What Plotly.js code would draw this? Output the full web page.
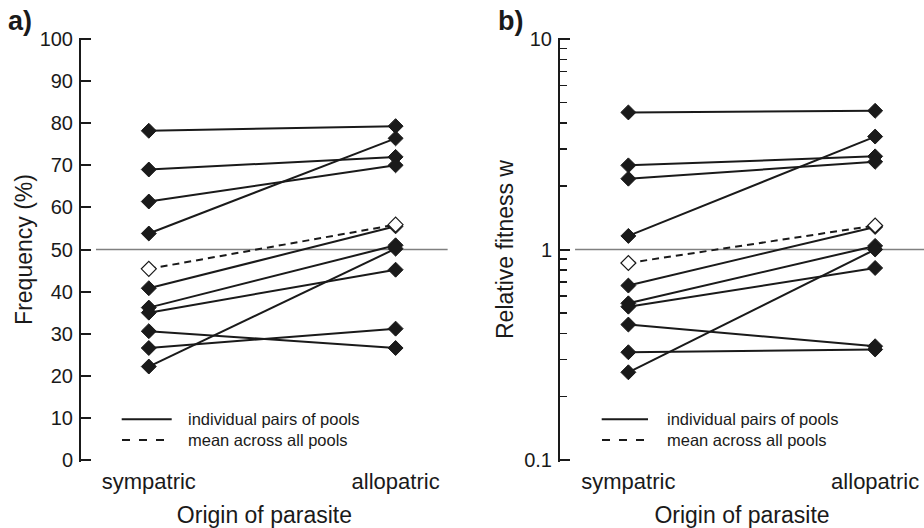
<!DOCTYPE html>
<html>
<head>
<meta charset="utf-8">
<script src="https://cdn.plot.ly/plotly-3.0.1.min.js"></script>
<style>
  html, body { margin: 0; padding: 0; background: #fff; }
  #chart { width: 924px; height: 528px; }
</style>
</head>
<body>
<div id="chart"></div>
<script>
// ---- data ----
const categories = ["sympatric", "allopatric"];
const catPos = [0, 1];

// Panel a: Frequency (%) per pair of pools
const freqSympatric  = [78.2, 69.0, 61.4, 53.8, 40.8, 36.2, 35.0, 30.6, 26.6, 22.2];
const freqAllopatric = [79.3, 72.0, 70.0, 76.4, 55.5, 51.0, 45.2, 26.6, 31.2, 50.2];
const freqMean = [45.4, 55.9];

// Panel b: Relative fitness w per pair of pools
const fitSympatric  = [4.48, 2.51, 2.17, 1.16, 0.674, 0.555, 0.535, 0.440, 0.325, 0.261];
const fitAllopatric = [4.56, 2.77, 2.61, 3.44, 1.28, 1.04, 0.817, 0.347, 0.335, 1.00];
const fitMean = [0.863, 1.30];

const freqTicks = [0, 10, 20, 30, 40, 50, 60, 70, 80, 90, 100];
const fitTicks = [0.1, 1, 10];
const fitTickText = ["0.1", "1", "10"];
const fitMinor = [0.2, 0.3, 0.4, 0.5, 0.6, 0.7, 0.8, 0.9, 2, 3, 4, 5, 6, 7, 8, 9];

const legendLabels = ["individual pairs of pools", "mean across all pools"];

// ---- geometry helpers ----
const W = 924, H = 528;
const px = v => v / W;
const py = v => 1 - v / H;
const FONT = "Liberation Sans, Arial, Helvetica, sans-serif";
const INK = "#1a1a1a";

const traces = [];
function addPanel(sym, allo, mean, xa, ya) {
  for (let i = 0; i < sym.length; i++) {
    traces.push({
      x: catPos, y: [sym[i], allo[i]], xaxis: xa, yaxis: ya,
      mode: "lines+markers", type: "scatter", showlegend: false, hoverinfo: "y",
      line: { color: INK, width: 2 },
      marker: { symbol: "diamond", size: 11.5, color: INK, line: { color: INK, width: 1 } }
    });
  }
  traces.push({
    x: catPos, y: mean, xaxis: xa, yaxis: ya,
    mode: "lines+markers", type: "scatter", showlegend: false, hoverinfo: "y",
    line: { color: INK, width: 2, dash: "7px,5px" },
    marker: { symbol: "diamond", size: 11.5, color: "#ffffff", line: { color: INK, width: 1.2 } }
  });
}
addPanel(freqSympatric, freqAllopatric, freqMean, "x", "y");
addPanel(fitSympatric, fitAllopatric, fitMean, "x2", "y2");

// plot area spans 1.5 px beyond the end ticks so Plotly keeps the inside end ticks
const yDom = [py(461.5), py(37.5)];

const xCommon = {
  tickmode: "array", tickvals: catPos, ticktext: categories,
  showline: false, zeroline: false, showgrid: false, ticks: "",
  tickfont: { family: FONT, size: 22, color: INK },
  ticklabelstandoff: 4, fixedrange: true,
  title: { text: "Origin of parasite", font: { family: FONT, size: 23, color: INK }, standoff: 16 }
};

const yCommon = {
  domain: yDom, tickmode: "array",
  showline: true, linecolor: INK, linewidth: 2,
  ticks: "inside", ticklen: 10, tickwidth: 2, tickcolor: INK,
  showgrid: false, zeroline: false, fixedrange: true,
  tickfont: { family: FONT, size: 20, color: INK }, ticklabelstandoff: 2
};

const layout = {
  width: W, height: H,
  margin: { l: 0, r: 0, t: 0, b: 0 },
  paper_bgcolor: "#ffffff", plot_bgcolor: "rgba(0,0,0,0)",
  showlegend: false,
  xaxis: Object.assign({}, xCommon, { domain: [px(81), px(447.8)], range: [-0.2747, 1.2115], anchor: "y" }),
  xaxis2: Object.assign({}, xCommon, { domain: [px(560), 1], range: [-0.277, 1.198], anchor: "y2" }),
  yaxis: Object.assign({}, yCommon, {
    range: [-0.356, 100.356], anchor: "x", tickvals: freqTicks,
    title: { text: "Frequency (%)", font: { family: FONT, size: 23, color: INK }, standoff: 1 }
  }),
  yaxis2: Object.assign({}, yCommon, {
    type: "log", range: [-1.0072, 1.0072], anchor: "x2",
    tickvals: fitTicks, ticktext: fitTickText,
    minor: { tickmode: "array", tickvals: fitMinor, ticks: "inside", ticklen: 7, tickwidth: 1.5, tickcolor: INK, showgrid: false },
    title: { text: "Relative fitness w", font: { family: FONT, size: 23, color: INK }, standoff: 4 }
  }),
  shapes: [
    { type: "line", xref: "x", yref: "y", x0: -0.214, x1: 1.2115, y0: 50, y1: 50, line: { color: "#808080", width: 1.6 }, layer: "below" },
    { type: "line", xref: "x2", yref: "y2", x0: -0.216, x1: 1.198, y0: 1, y1: 1, line: { color: "#808080", width: 1.6 }, layer: "below" },
    // legend samples panel a
    { type: "line", xref: "paper", yref: "paper", x0: px(121.7), x1: px(171.7), y0: py(419.3), y1: py(419.3), line: { color: INK, width: 2 } },
    { type: "line", xref: "paper", yref: "paper", x0: px(122), x1: px(164), y0: py(440), y1: py(440), line: { color: INK, width: 2, dash: "8px,9px" } },
    // legend samples panel b
    { type: "line", xref: "paper", yref: "paper", x0: px(601.7), x1: px(648), y0: py(419.3), y1: py(419.3), line: { color: INK, width: 2 } },
    { type: "line", xref: "paper", yref: "paper", x0: px(602), x1: px(644), y0: py(440), y1: py(440), line: { color: INK, width: 2, dash: "8px,9px" } }
  ],
  annotations: [
    { text: "<b>a)</b>", xref: "paper", yref: "paper", x: px(6), y: py(21), xanchor: "left", yanchor: "middle", showarrow: false, font: { family: FONT, size: 27, color: INK } },
    { text: "<b>b)</b>", xref: "paper", yref: "paper", x: px(496), y: py(21), xanchor: "left", yanchor: "middle", showarrow: false, font: { family: FONT, size: 27, color: INK } },
    { text: legendLabels[0], xref: "paper", yref: "paper", x: px(186), y: py(419.3), xanchor: "left", yanchor: "middle", showarrow: false, font: { family: FONT, size: 16.5, color: INK } },
    { text: legendLabels[1], xref: "paper", yref: "paper", x: px(186), y: py(440), xanchor: "left", yanchor: "middle", showarrow: false, font: { family: FONT, size: 16.5, color: INK } },
    { text: legendLabels[0], xref: "paper", yref: "paper", x: px(665), y: py(419.3), xanchor: "left", yanchor: "middle", showarrow: false, font: { family: FONT, size: 16.5, color: INK } },
    { text: legendLabels[1], xref: "paper", yref: "paper", x: px(665), y: py(440), xanchor: "left", yanchor: "middle", showarrow: false, font: { family: FONT, size: 16.5, color: INK } }
  ]
};

Plotly.newPlot("chart", traces, layout, { displayModeBar: false, staticPlot: true });
</script>
</body>
</html>
